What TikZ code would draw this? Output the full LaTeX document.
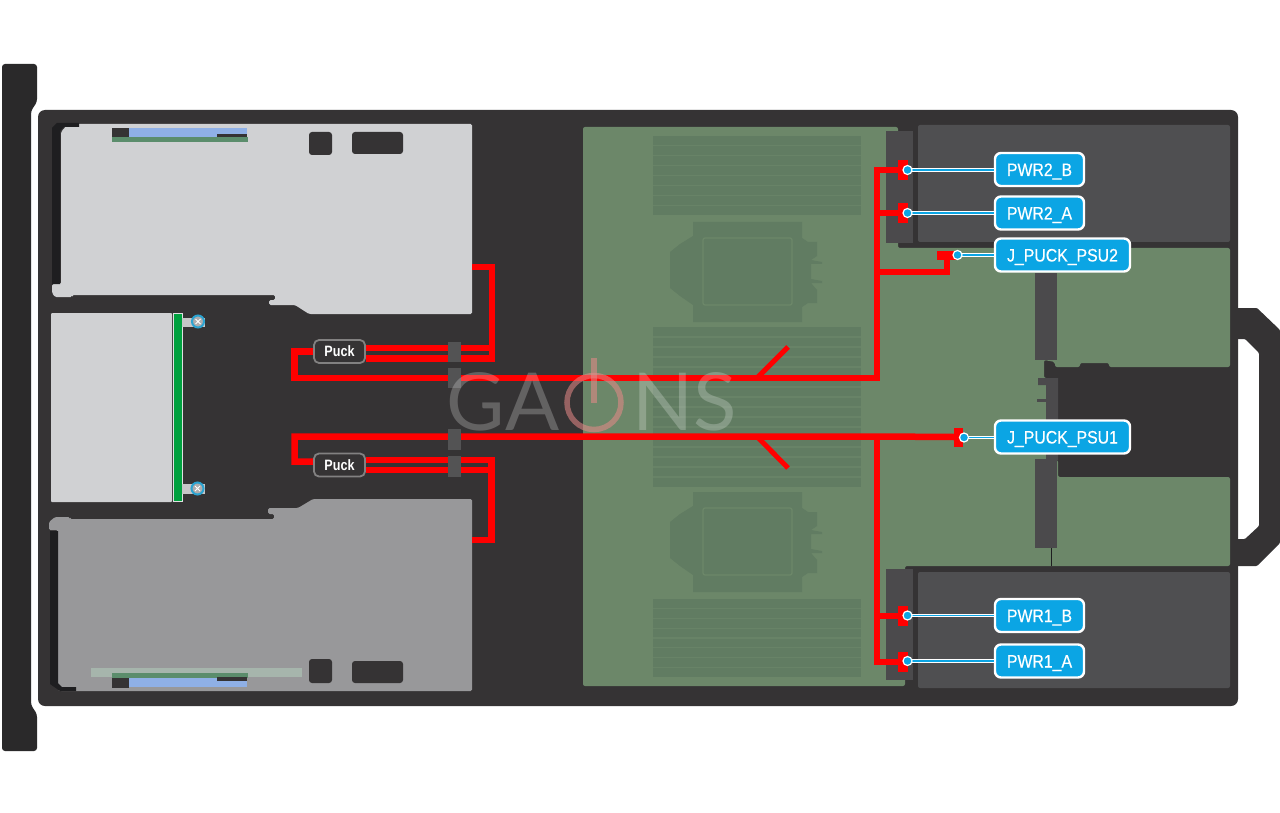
\documentclass[tikz,border=0pt]{standalone}
\usepackage{fontspec}
\setmainfont{Liberation Sans}
\newfontfamily\lblfont[FakeStretch=0.88,FakeBold=0.5]{Liberation Sans}
\newfontfamily\puckfont[FakeStretch=0.84]{Liberation Sans Bold}
\newfontfamily\wmfont{Lato}
\pgfdeclarelayer{art}
\pgfdeclarelayer{wires}
\pgfsetlayers{art,wires,main}
\definecolor{chassis}{HTML}{353334}
\definecolor{bezel}{HTML}{2A292A}
\definecolor{cardlt}{HTML}{D0D1D3}
\definecolor{carddk}{HTML}{98989A}
\definecolor{brack}{HTML}{1E1E20}
\definecolor{board}{HTML}{6C8769}
\definecolor{dimm}{HTML}{617C62}
\definecolor{slot}{HTML}{4B4A4C}
\definecolor{psu}{HTML}{4F4F51}
\definecolor{ltblue}{HTML}{8FB0E6}
\definecolor{pcbg}{HTML}{5B8D6C}
\definecolor{lblblue}{HTML}{0BA5E4}
\definecolor{wirered}{HTML}{FF0000}
\definecolor{clip}{HTML}{535354}
\definecolor{greenbar}{HTML}{00A13F}
\definecolor{ringblue}{HTML}{2BA3D0}
\definecolor{wmred}{HTML}{E88A88}
\tikzset{
  wire/.style={draw=wirered,line width=6.5pt,line join=miter},
  slash/.style={draw=wirered,line width=5pt},
  termblock/.style={fill=wirered,inner sep=0pt,minimum width=10pt,minimum height=20pt},
  clipblock/.style={fill=clip,inner sep=0pt,minimum width=13pt},
  puck/.style={draw=white!38!chassis,line width=1.8pt,fill=chassis,rounded corners=5pt,minimum width=51pt,minimum height=23pt,inner sep=0pt,text=white,font=\puckfont\fontsize{15}{15}\selectfont},
  callout/.style={draw=white,line width=2.4pt,fill=lblblue,rounded corners=6pt,minimum height=33pt,inner sep=0pt,text=white,text height=13pt,text depth=0pt,font=\lblfont\fontsize{18}{18}\selectfont},
  dotmark/.style={circle,draw=white,line width=1.2pt,fill=lblblue,inner sep=0pt,minimum size=9pt},
  leaderw/.style={draw=white,line width=3.6pt},
  leaderb/.style={draw=lblblue,line width=1.2pt},
  darkbox/.style={fill=chassis,rounded corners=3pt},
  screw/.style={circle,fill=carddk!80!white,draw=ringblue,line width=2pt,inner sep=0pt,minimum size=12pt},
  wmark/.style={text=white,opacity=0.23,inner sep=0pt,font=\wmfont\fontsize{80}{80}\selectfont},
  wmring/.style={draw=wmred,opacity=0.55,line width=5.5pt}
}
\newcommand{\dimmbank}[3]{% y-top, slots, pitch
  \fill[dimm] (653,#1) rectangle (861,{#1+#2*#3});
  \foreach \k in {1,...,\numexpr#2-1\relax}
    \draw[dimm!35!board,line width=1.1pt] (653,{#1+\k*#3}) -- (861,{#1+\k*#3});
}
\newcommand{\cpusock}[1]{%
  \begin{scope}[shift={(0,#1)}]
    \fill[dimm] (693,222) -- (802,222) -- (802,238) -- (808,242) -- (817,242) -- (817,256) -- (811,260) -- (822,262) -- (822,264) -- (811,264) -- (811,279) -- (822,281) -- (822,283) -- (811,283) -- (817,290) -- (817,303) -- (808,303) -- (802,307) -- (802,322) -- (693,322) -- (693,305) -- (680,296) -- (670,288) -- (670,252) -- (680,244) -- (693,236) -- cycle;
    \draw[board,fill=dimm,line width=1.3pt,rounded corners=2pt] (703,238) rectangle (792,305);
  \end{scope}
}
\begin{document}
\begin{tikzpicture}[x=1pt,y=-1pt]
\useasboundingbox (0,0) rectangle (1280,813);
\begin{pgfonlayer}{art}
\fill[white] (0,0) rectangle (1280,813);
% bezel
\fill[bezel,rounded corners=3pt] (2,64) -- (37,64) -- (37,102) -- (31,111) -- (31,705) -- (37,714) -- (37,751) -- (2,751) -- cycle;
% handle
\fill[chassis,rounded corners=1pt] (1230,308) -- (1257,308) -- (1280,330) -- (1280,543) -- (1257,566) -- (1230,566) -- (1230,539) -- (1245,539) -- (1259,526) -- (1259,353) -- (1245,339) -- (1230,339) -- cycle;
% chassis
\fill[chassis,rounded corners=7pt] (38,110) rectangle (1238,706);
% main board
\fill[board,rounded corners=2pt] (583,127) -- (898,127) -- (898,248) -- (1230,248) -- (1230,367) -- (1109,367) -- (1109,363) -- (1080,363) -- (1080,367) -- (1055,367) -- (1055,362) -- (1044,360) -- (1044,378) -- (1046,378) -- (1046,460) -- (1058,460) -- (1058,477) -- (1230,477) -- (1230,566) -- (905,566) -- (905,686) -- (583,686) -- cycle;
% memory and sockets
\dimmbank{136}{8}{9.9}
\dimmbank{327}{16}{10}
\dimmbank{599}{8}{9.75}
\cpusock{0}
\cpusock{270}
% psu bays
\fill[psu,rounded corners=2pt] (918,125) rectangle (1230,242);
\fill[psu,rounded corners=2pt] (918,572) rectangle (1230,688);
\fill[slot] (886,131) rectangle (913,243);
\fill[slot] (886,569) rectangle (913,680);
% sockets on board
\fill[slot] (1035,273) rectangle (1057,360);
\fill[slot] (1038,378) -- (1058,378) -- (1058,460) -- (1046,460) -- (1046,385) -- (1038,385) -- cycle;
\fill[slot] (1037,399) rectangle (1046,402);
\fill[slot] (1035,459) rectangle (1057,548);
\draw[brack,line width=0.8pt] (1051.5,548) -- (1051.5,566);
% upper card
\fill[cardlt,rounded corners=1.5pt] (61,132) -- (68,124) -- (472,124) -- (472,314) -- (309,314) -- (295,305) -- (269,305) -- (269,300) -- (275,300) -- (275,295) -- (72,295) -- (72,297) -- (55,297) -- (52,293) -- (52,284) -- (61,284) -- cycle;
\fill[brack] (52,284) -- (52,128) -- (57,123) -- (79,123) -- (79,127) -- (64,127) -- (60,131) -- (60,284) -- cycle;
\fill[pcbg] (112,137) rectangle (248,142);
\fill[chassis] (112,128) rectangle (129,137.5);
\fill[ltblue] (129,128.5) rectangle (247,137.5);
\fill[chassis] (217,134.5) rectangle (247,137.5);
\node[darkbox,minimum width=23pt,minimum height=23pt,inner sep=0pt] (sqA) at (320.5,143.5) {};
\node[darkbox,minimum width=51pt,minimum height=22pt,inner sep=0pt] (sqB) at (377.5,143) {};
% lower card
\fill[carddk,rounded corners=1.5pt] (58,690) -- (58,530) -- (49,530) -- (49,522) -- (55,517) -- (70,517) -- (70,519) -- (274,519) -- (274,514) -- (268,514) -- (268,508) -- (298,508) -- (313,499) -- (472,499) -- (472,691) -- (60,691) -- cycle;
\fill[brack] (50,531) -- (58,531) -- (58,683) -- (62,687) -- (76,687) -- (76,691) -- (60,691) -- (50,684) -- cycle;
\fill[white!45!carddk!70!pcbg] (91,668) rectangle (302,677);
\fill[pcbg] (112,672.5) rectangle (248,678);
\fill[chassis] (112,678) rectangle (129,687.5);
\fill[ltblue] (129,678) rectangle (247,687);
\fill[chassis] (217,677) rectangle (247,680.5);
\node[darkbox,minimum width=23pt,minimum height=24pt,inner sep=0pt] (sqC) at (320.5,671) {};
\node[darkbox,minimum width=51pt,minimum height=22pt,inner sep=0pt] (sqD) at (377.5,672) {};
% left module, green bar, screws
\fill[cardlt,rounded corners=1pt] (51,313) rectangle (172,502);
\fill[white!70!carddk] (172.5,312.5) rectangle (182.5,502);
\fill[greenbar] (173.5,313.5) rectangle (181.5,501);
\fill[white!45!carddk] (182,317.5) rectangle (205,327);
\node[screw] (scrA) at (198,321.5) {};
\draw[white,line width=0.8pt] (195.5,319) -- (200.5,324) (200.5,319) -- (195.5,324);
\fill[white!45!carddk] (182,484) rectangle (205,493.5);
\node[screw] (scrB) at (197.5,488.5) {};
\draw[white,line width=0.8pt] (195,486) -- (200,491) (200,486) -- (195,491);
\end{pgfonlayer}
% named wire ends
\node[puck] (puckU) at (339.5,351.5) {Puck};
\node[puck] (puckL) at (339.5,465) {Puck};
\node[termblock] (tB2) at (903,170) {};
\node[termblock] (tA2) at (903,213) {};
\node[termblock] (tB1) at (903,616) {};
\node[termblock] (tA1) at (903,662) {};
\node[termblock,minimum width=20pt,minimum height=9.5pt] (tJ2) at (947,255.5) {};
\node[termblock,minimum width=9pt,minimum height=19pt] (tJ1) at (958.5,437) {};
\coordinate (cardU) at (472,267);
\coordinate (cardL) at (472,540);
\coordinate (slashU) at (788,347);
\coordinate (slashL) at (788,468);
\coordinate (rootU) at (757,378);
\coordinate (rootL) at (757,436.5);
\coordinate (trunkT) at (877,170);
\coordinate (trunkM) at (877,378);
\coordinate (trunkJ) at (877,436.5);
\coordinate (trunkB) at (877,662);
% wires
\begin{pgfonlayer}{wires}
\draw[wire] (cardU) -- (492,267) -- (492,358.5) -- (puckU.east |- 0,358.5);
\draw[wire] (492,348) -- (puckU.east |- 0,348);
\draw[wire] (puckU.west) -- (294.5,351.5) -- (294.5,378) -- (trunkM) -- (trunkT) -- (tB2.west);
\draw[wire] (877,213) -- (tA2.west);
\draw[wire] (877,272) -- (947,272) -- (tJ2.south);
\draw[wire] (puckL.center |- 0,461.5) -- (294.5,461.5) -- (294.5,436.5) -- (trunkJ) -- (tJ1.west);
\draw[wire] (cardL) -- (491.5,540) -- (491.5,460) -- (puckL.east |- 0,460);
\draw[wire] (491.5,470) -- (puckL.east |- 0,470);
\draw[wire] (trunkJ) -- (trunkB) -- (tA1.west);
\draw[wire] (877,616) -- (tB1.west);
\draw[slash] (rootU) -- (slashU);
\draw[slash] (rootL) -- (slashL);
\end{pgfonlayer}
% clips across wires
\node[clipblock,minimum height=20pt] (clipA) at (454.5,352) {};
\node[clipblock,minimum height=20pt] (clipB) at (454.5,378) {};
\node[clipblock,minimum height=21pt] (clipC) at (454.5,439.5) {};
\node[clipblock,minimum height=21pt] (clipD) at (454.5,466.5) {};
% callouts
\node[callout,minimum width=89pt] (lB2) at (1039.5,169.5) {PWR2\_B};
\node[callout,minimum width=89pt] (lA2) at (1039.5,213) {PWR2\_A};
\node[callout,minimum width=135pt] (lJ2) at (1062.5,255) {J\_PUCK\_PSU2};
\node[callout,minimum width=135pt] (lJ1) at (1062.5,437) {J\_PUCK\_PSU1};
\node[callout,minimum width=89pt] (lB1) at (1039.5,615.5) {PWR1\_B};
\node[callout,minimum width=89pt] (lA1) at (1039.5,661) {PWR1\_A};
\foreach \d/\l/\x/\y in {dB2/lB2/907.5/170,dA2/lA2/907.5/213,dJ2/lJ2/957.5/255,dJ1/lJ1/964/437.5,dB1/lB1/907.5/615.5,dA1/lA1/907.5/661}{
  \coordinate (\d) at (\x,\y);
  \draw[leaderw] (\d) -- (\d -| \l.west);
  \draw[leaderb] (\d) -- (\d -| \l.west);
  \node[dotmark] at (\d) {};
}
% watermark
\node[wmark,anchor=center] (wmA) at (503,402) {GA};
\node[wmark,anchor=center] (wmB) at (685,402) {NS};
\draw[wmring] (594,402.5) circle (27);
\draw[wmring] (594,358) -- (594,403);
\end{tikzpicture}
\end{document}
